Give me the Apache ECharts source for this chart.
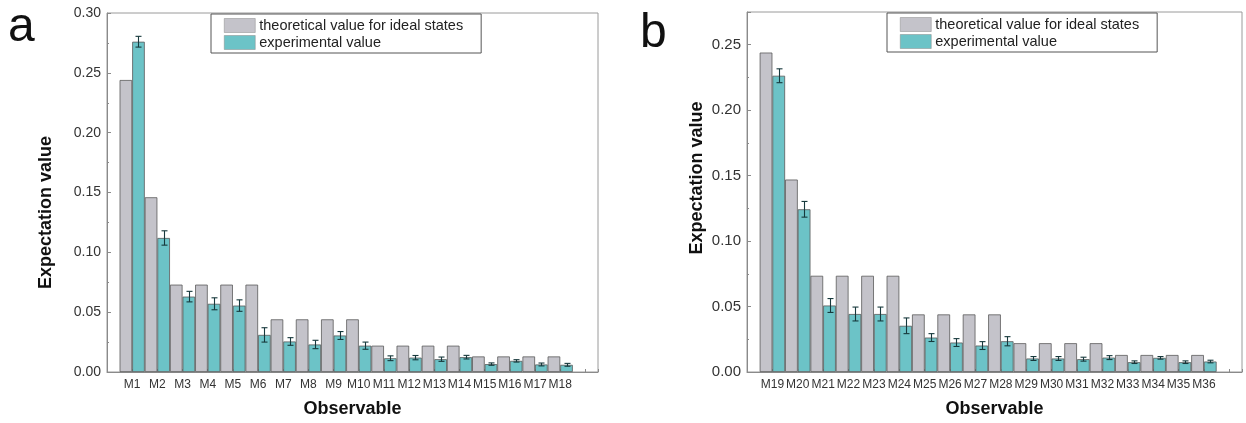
<!DOCTYPE html>
<html><head><meta charset="utf-8">
<script src="https://cdn.jsdelivr.net/npm/echarts@6/dist/echarts.min.js"></script>
<style>html,body{margin:0;padding:0;background:#fff}#c{width:1246px;height:423px}</style>
</head><body><div id="c"></div>
<script>
const catsA = ['M1','M2','M3','M4','M5','M6','M7','M8','M9','M10','M11','M12','M13','M14','M15','M16','M17','M18'];
const catsB = ['M19','M20','M21','M22','M23','M24','M25','M26','M27','M28','M29','M30','M31','M32','M33','M34','M35','M36'];
const theoA = [0.244,0.146,0.073,0.073,0.073,0.073,0.044,0.044,0.044,0.044,0.022,0.022,0.022,0.022,0.013,0.013,0.013,0.013];
const expA  = [0.276,0.112,0.063,0.057,0.0555,0.031,0.0255,0.023,0.0305,0.022,0.0115,0.012,0.0107,0.0124,0.0066,0.0093,0.0063,0.006];
const errA  = [0.0045,0.006,0.0044,0.005,0.0048,0.006,0.0032,0.0035,0.0033,0.003,0.002,0.0018,0.0018,0.0015,0.001,0.001,0.0012,0.0012];
const theoB = [0.244,0.147,0.0735,0.0735,0.0735,0.0735,0.044,0.044,0.044,0.044,0.022,0.022,0.022,0.022,0.013,0.013,0.013,0.013];
const expB  = [0.2263,0.1243,0.0508,0.0443,0.0443,0.0353,0.0263,0.0225,0.0202,0.0235,0.0103,0.0103,0.0098,0.011,0.0075,0.0108,0.0075,0.008];
const errB  = [0.0053,0.006,0.0053,0.0053,0.0053,0.006,0.003,0.003,0.003,0.0035,0.0015,0.0015,0.0015,0.0015,0.001,0.001,0.001,0.001];
const yTicksA = [0, 0.30];
const yTicksB = [0, 0.275];
const NAME_T = 'theoretical value for ideal states';
const NAME_E = 'experimental value';

const FONT = 'Liberation Sans, Arial, sans-serif';
const GREY = '#c4c3ca', CYAN = '#6cc3c7', EDGE = '#5a5a5a', AXC = '#8a8a8a';

function xAxis(gi, cats){
  return {type:'value', gridIndex:gi, min:0, max:19.5, interval:1,
    name:'Observable', nameLocation:'middle', nameGap:28,
    nameTextStyle:{fontFamily:FONT, fontSize:18, fontWeight:'bold', color:'#111'},
    axisLine:{lineStyle:{color:AXC}}, splitLine:{show:false},
    axisTick:{inside:true, length:3, lineStyle:{color:AXC}},
    axisLabel:{fontFamily:FONT, fontSize:12, color:'#333', margin:7,
      formatter:v => (Number.isInteger(v) && v>=1 && v<=cats.length) ? cats[v-1] : ''}};
}
function yAxis(gi, ext, fs, gap, pad){
  return {type:'value', gridIndex:gi, min:ext[0], max:ext[1], interval:0.05,
    name:'Expectation value', nameLocation:'middle', nameGap:gap,
    nameTextStyle:{fontFamily:FONT, fontSize:18, fontWeight:'bold', color:'#111', padding:pad},
    axisLine:{show:true, lineStyle:{color:AXC}}, splitLine:{show:false},
    axisTick:{inside:true, length:4, lineStyle:{color:AXC}},
    minorTick:{show:true, splitNumber:2, length:2, lineStyle:{color:AXC}},
    axisLabel:{fontFamily:FONT, fontSize:fs, color:'#333', margin:6,
      showMaxLabel: Math.abs(ext[1]/0.05 - Math.round(ext[1]/0.05)) < 1e-6,
      formatter:v => v.toFixed(2)}};
}
function barSeries(name, gi, vals, color){
  return {type:'bar', name, xAxisIndex:gi, yAxisIndex:gi,
    barGap:'0%', barCategoryGap:'0%',
    itemStyle:{color, borderColor:EDGE, borderWidth:0.8},
    data: vals.map((v,i)=>[i+1, v])};
}
function errSeries(gi, vals, errs){
  return {type:'custom', xAxisIndex:gi, yAxisIndex:gi, z:5, silent:true,
    data: vals.map((v,i)=>[i+1, v, errs[i]]),
    renderItem(params, api){
      const x = api.value(0), y = api.value(1), e = api.value(2);
      const bw = api.size([1,0])[0];
      const t = api.coord([x, y+e]), b = api.coord([x, y-e]);
      const cx = Math.round(t[0] + bw*0.25) + 0.5;
      const st = {stroke:'#17393c', lineWidth:1.1};
      return {type:'group', children:[
        {type:'line', shape:{x1:cx,y1:t[1],x2:cx,y2:b[1]}, style:st},
        {type:'line', shape:{x1:cx-3,y1:t[1],x2:cx+3,y2:t[1]}, style:st},
        {type:'line', shape:{x1:cx-3,y1:b[1],x2:cx+3,y2:b[1]}, style:st}
      ]};
    }};
}
function legend(left, top){
  return {left, top, orient:'vertical', itemWidth:31, itemHeight:14, itemGap:2,
    padding:[4,18,3,13], borderColor:'#555', borderWidth:1, backgroundColor:'#fff',
    icon:'rect', data:[NAME_T, NAME_E],
    itemStyle:{borderColor:'#888', borderWidth:0.5},
    textStyle:{fontFamily:FONT, fontSize:14.5, color:'#222', padding:[0,0,0,-1]}};
}

const chart = echarts.init(document.getElementById('c'), null, {renderer:'canvas'});
chart.setOption({
  animation:false,
  backgroundColor:'#fff',
  graphic:[
    {type:'text', left:8, top:4, style:{text:'a', font:'48px '+FONT, fill:'#111'}},
    {type:'text', left:640, top:10, style:{text:'b', font:'48px '+FONT, fill:'#111'}}
  ],
  legend:[legend(211,14), legend(887,13)],
  grid:[
    {left:107, top:13, width:491, height:364, show:true, borderColor:'#9a9a9a', borderWidth:1},
    {left:747, top:12, width:495, height:367, show:true, borderColor:'#9a9a9a', borderWidth:1}
  ],
  xAxis:[xAxis(0,catsA), xAxis(1,catsB)],
  yAxis:[yAxis(0,yTicksA,14,52,[0,40,0,0]), yAxis(1,yTicksB,15,41,[0,0,0,28])],
  series:[
    barSeries(NAME_T,0,theoA,GREY), barSeries(NAME_E,0,expA,CYAN), errSeries(0,expA,errA),
    barSeries(NAME_T,1,theoB,GREY), barSeries(NAME_E,1,expB,CYAN), errSeries(1,expB,errB)
  ]
});
</script></body></html>
